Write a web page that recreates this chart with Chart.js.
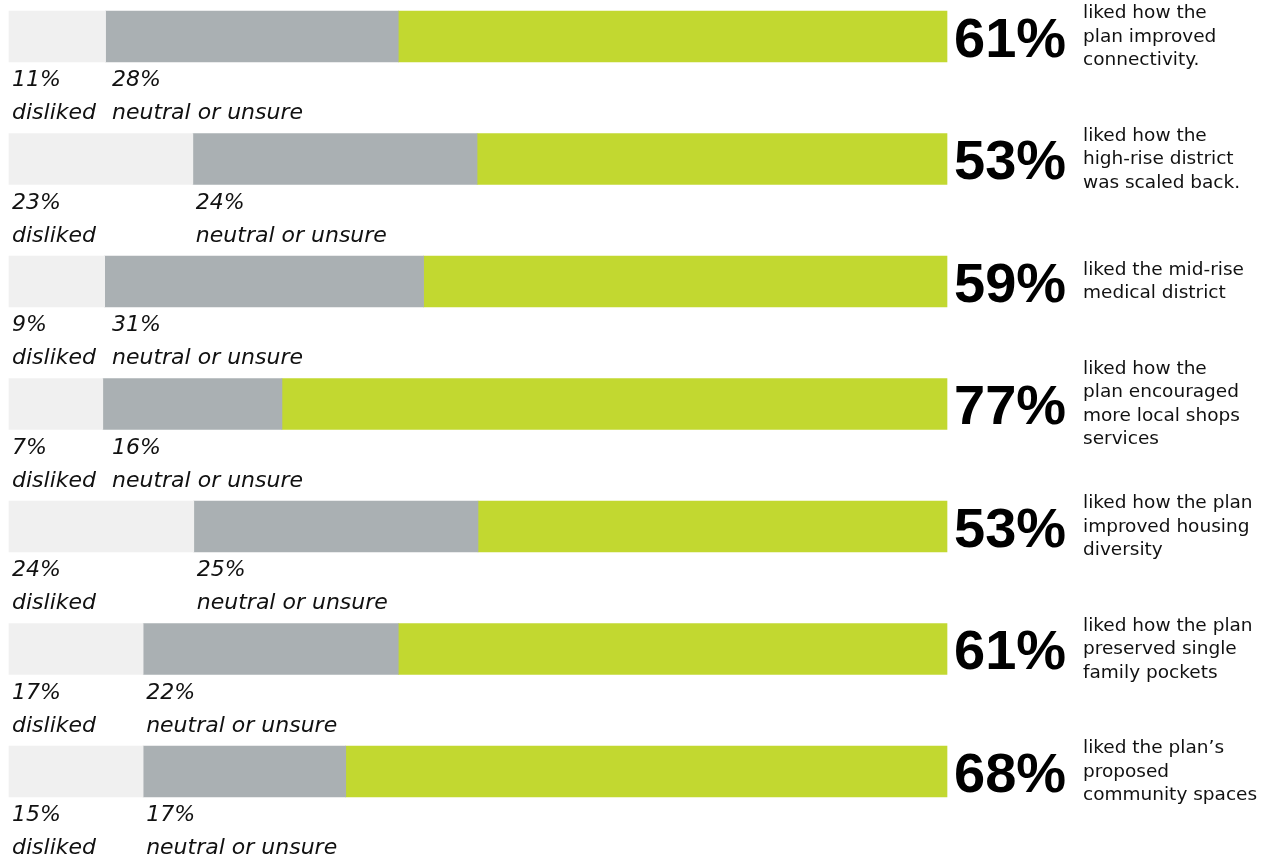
<!DOCTYPE html>
<html>
<head>
<meta charset="utf-8">
<script src="https://cdn.jsdelivr.net/npm/chart.js@4"></script>
<style>
  html, body { margin: 0; padding: 0; background: #fff; }
  #wrap { width: 1262px; height: 861px; position: relative; }
</style>
</head>
<body>
<div id="wrap"><canvas id="surveyChart"></canvas></div>
<script>
// =====================================================
// DATA
// =====================================================
// bar lengths as drawn (share of the full bar)
const dislikedBar = [10.3, 19.6, 10.2, 10.0, 19.7, 14.3, 14.3];
const neutralBar  = [31.2, 30.3, 34.0, 19.1, 30.3, 27.2, 21.6];
const likedBar    = [58.5, 50.1, 55.8, 70.9, 50.0, 58.5, 64.1];

// printed percentages
const dislikedPct = [11, 23, 9, 7, 24, 17, 15];
const neutralPct  = [28, 24, 31, 16, 25, 22, 17];
const likedPct    = [61, 53, 59, 77, 53, 61, 68];

const categories = [
    ["liked how the", "plan improved", "connectivity."],
    ["liked how the", "high-rise district", "was scaled back."],
    ["liked the mid-rise", "medical district"],
    ["liked how the", "plan encouraged", "more local shops", "services"],
    ["liked how the plan", "improved housing", "diversity"],
    ["liked how the plan", "preserved single", "family pockets"],
    ["liked the plan\u2019s", "proposed", "community spaces"]
];

const COLORS = {
    disliked: '#f0f0f0',
    neutral: '#aab0b3',
    liked: '#c2d830',
    text: '#111111'
};

// =====================================================
// LABEL PLUGIN
// =====================================================
const labelPlugin = {
    id: 'rowLabels',
    afterDatasetsDraw(chart) {
        const ctx = chart.ctx;
        const dis = chart.getDatasetMeta(0).data;
        const neu = chart.getDatasetMeta(1).data;
        ctx.save();
        ctx.textAlign = 'left';
        ctx.textBaseline = 'alphabetic';

        categories.forEach((lines, i) => {
            const bar = dis[i];
            const cy = bar.y;
            const bottom = cy + bar.height / 2;

            // italic labels under the bar
            ctx.fillStyle = COLORS.text;
            ctx.font = 'italic 22px "DejaVu Sans"';
            ctx.fillText(dislikedPct[i] + '%', 12, bottom + 24);
            ctx.fillText('disliked', 12, bottom + 57);

            const nx = Math.max(neu[i].base + 3, 112);
            ctx.fillText(neutralPct[i] + '%', nx, bottom + 24);
            ctx.fillText('neutral or unsure', nx, bottom + 57);

            // big liked percentage
            ctx.fillStyle = '#000';
            ctx.font = 'bold 56px "Liberation Sans"';
            ctx.fillText(likedPct[i] + '%', 954, cy + 20);

            // description
            ctx.fillStyle = COLORS.text;
            ctx.font = '18.5px "DejaVu Sans"';
            const n = lines.length;
            lines.forEach((t, j) => {
                ctx.fillText(t, 1083, cy + 5 + (j - (n - 1) / 2) * 23.5);
            });
        });
        ctx.restore();
    }
};

// =====================================================
// CHART
// =====================================================
new Chart(document.getElementById('surveyChart'), {
    type: 'bar',
    data: {
        labels: categories.map(c => c.join(' ')),
        datasets: [
            { label: 'disliked', data: dislikedBar, backgroundColor: COLORS.disliked },
            { label: 'neutral or unsure', data: neutralBar, backgroundColor: COLORS.neutral },
            { label: 'liked', data: likedBar, backgroundColor: COLORS.liked }
        ]
    },
    options: {
        indexAxis: 'y',
        responsive: true,
        maintainAspectRatio: false,
        animation: false,
        datasets: {
            bar: { barThickness: 51, borderWidth: 0, clip: false }
        },
        layout: {
            padding: { left: 9, right: 315, top: 36.5, bottom: 89.5 }
        },
        scales: {
            x: { stacked: true, min: 0, max: 100, display: false },
            y: { stacked: true, display: false, offset: false }
        },
        plugins: {
            legend: { display: false },
            tooltip: { enabled: false }
        }
    },
    plugins: [labelPlugin]
});
</script>
</body>
</html>
